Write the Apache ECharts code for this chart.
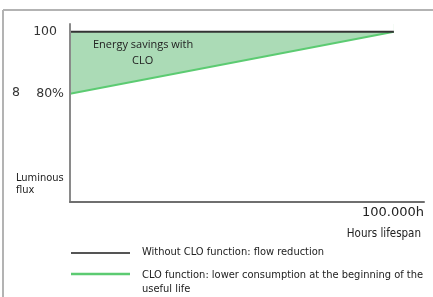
<!DOCTYPE html>
<html>
<head>
<meta charset="utf-8">
<script src="https://cdn.jsdelivr.net/npm/echarts@6/dist/echarts.min.js"></script>
<style>
  html, body { margin: 0; padding: 0; background: #fff; }
  #chart { width: 433px; height: 297px; }
</style>
</head>
<body>
<div id="chart"></div>
<script>
// hours of lifespan
const hours = [0, 100000];
// luminous flux, percent
const withoutClo = [100, 100];
const withClo = [80, 100];
const yTicks = [80, 100];

const narrow = '"Liberation Sans Narrow", "DejaVu Sans Condensed", sans-serif';
const wide = '"DejaVu Sans", sans-serif';

const chart = echarts.init(document.getElementById('chart'));

const pairs = (ys) => hours.map((h, i) => [h, ys[i]]);

chart.setOption({
  animation: false,
  grid: { left: 70, right: 9, top: 24, bottom: 95 },
  xAxis: {
    type: 'value',
    min: 0,
    max: 109300,
    z: 10,
    axisLine: { show: true, lineStyle: { color: '#6f6f6f', width: 2 } },
    axisTick: { show: false },
    axisLabel: { show: false },
    splitLine: { show: false }
  },
  yAxis: {
    type: 'value',
    min: 45,
    max: 102.5,
    z: 10,
    axisLine: { show: true, lineStyle: { color: '#8a8a8a', width: 2 } },
    axisTick: { show: false },
    splitLine: { show: false },
    axisLabel: {
      customValues: yTicks,
      margin: 6,
      color: '#333',
      fontFamily: wide,
      fontSize: 12.5,
      formatter: (v) => (v === 100 ? '{a|100}' : v + '%'),
      rich: { a: { fontFamily: wide, fontSize: 12.5, color: '#333', padding: [0, 7, 0, 0] } }
    }
  },
  series: [
    {
      // green area from the CLO line up to the top of the axis ...
      name: 'CLO function',
      type: 'line',
      data: pairs(withClo),
      showSymbol: false,
      lineStyle: { color: '#5ccb72', width: 2 },
      areaStyle: { color: '#abdbb6', opacity: 1, origin: 'end' },
      z: 2
    },
    {
      // ... and white above 100% so only the savings wedge stays green
      name: 'Without CLO function',
      type: 'line',
      data: pairs(withoutClo),
      showSymbol: false,
      lineStyle: { color: '#333', width: 2 },
      areaStyle: { color: '#fff', opacity: 1, origin: 'end' },
      z: 3
    }
  ],
  graphic: [
    // outer frame
    { type: 'line', z: 100, shape: { x1: 3, y1: 10, x2: 433, y2: 10 }, style: { stroke: '#b3b3b3', lineWidth: 2 } },
    { type: 'line', z: 100, shape: { x1: 3, y1: 10, x2: 3, y2: 297 }, style: { stroke: '#b3b3b3', lineWidth: 2 } },
    { type: 'text', z: 100, left: 12, top: 86, style: { text: '8', font: '12.5px ' + wide, fill: '#333' } },
    { type: 'text', z: 100, left: 93, top: 39, style: { text: 'Energy savings with', font: '11px "Open Sans", sans-serif', fill: '#222' } },
    { type: 'text', z: 100, left: 132, top: 55, style: { text: 'CLO', font: '11px "Open Sans", sans-serif', fill: '#222' } },
    { type: 'text', z: 100, left: 16, top: 172, style: { text: 'Luminous\nflux', font: '11px ' + narrow, fill: '#222', lineHeight: 12 } },
    { type: 'text', z: 100, right: 9, top: 206, style: { text: '100.000h', font: '13px ' + wide, fill: '#222' } },
    { type: 'text', z: 100, right: 12, top: 228, style: { text: 'Hours lifespan', font: '11.5px ' + narrow, fill: '#222' } },
    // legend
    { type: 'line', z: 100, shape: { x1: 71, y1: 253, x2: 130, y2: 253 }, style: { stroke: '#555', lineWidth: 2 } },
    { type: 'text', z: 100, left: 142, top: 247, style: { text: 'Without CLO function: flow reduction', font: '11px ' + narrow, fill: '#222' } },
    { type: 'line', z: 100, shape: { x1: 71, y1: 274, x2: 130, y2: 274 }, style: { stroke: '#5ccb72', lineWidth: 2.5 } },
    { type: 'text', z: 100, left: 142, top: 268, style: { text: 'CLO function: lower consumption at the beginning of the\nuseful life', font: '11px ' + narrow, fill: '#222', lineHeight: 14 } }
  ]
});
</script>
</body>
</html>
